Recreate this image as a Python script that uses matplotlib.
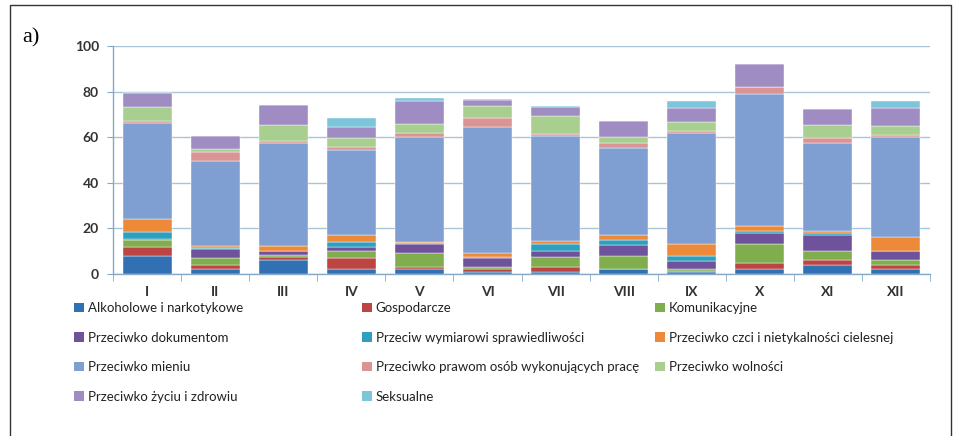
import numpy as np
import matplotlib.pyplot as plt
from matplotlib.patches import Rectangle, Patch

months = ["I", "II", "III", "IV", "V", "VI", "VII", "VIII", "IX", "X", "XI", "XII"]

labels = [
    "Alkoholowe i narkotykowe",
    "Gospodarcze",
    "Komunikacyjne",
    "Przeciwko dokumentom",
    "Przeciw wymiarowi sprawiedliwości",
    "Przeciwko czci i nietykalności cielesnej",
    "Przeciwko mieniu",
    "Przeciwko prawom osób wykonujących pracę",
    "Przeciwko wolności",
    "Przeciwko życiu i zdrowiu",
    "Seksualne",
]

alkoholowe   = [8, 2, 6, 2, 2, 1, 1, 2, 1, 2, 4, 2]
gospodarcze  = [4, 2, 1.5, 5, 1, 1, 2, 0.3, 0.3, 3, 2, 2]
komunikacyjne = [3, 3, 1, 3, 6, 1, 4.5, 5.5, 1, 8, 4, 2]
dokumentom   = [0.3, 4, 1.5, 2, 4, 4, 2.5, 5, 3.5, 5, 7, 4]
wymiarowi    = [3, 0.5, 0.3, 2, 0.5, 0.5, 3, 2, 2.2, 1, 1, 0.3]
czci         = [6, 0.7, 2, 3, 0.5, 1.5, 1.5, 2.5, 5, 2, 1, 6]
mieniu       = [42, 37.5, 45, 37.5, 46, 55.5, 46, 38, 49, 58, 38.5, 44]
prawom       = [1, 4, 1, 1, 2, 4, 0.7, 2, 0.8, 3, 2, 0.7]
wolnosci     = [6, 1, 7, 4, 4, 5, 8, 3, 4, 0, 6, 4]
zyciu        = [6, 6, 9, 5, 10, 3, 4, 7, 6, 10, 7, 8]
seksualne    = [0, 0, 0, 4, 1, 0.3, 0.5, 0, 3, 0, 0, 3]

series = [alkoholowe, gospodarcze, komunikacyjne, dokumentom, wymiarowi, czci,
          mieniu, prawom, wolnosci, zyciu, seksualne]

colors = ["#3270B4", "#BC4442", "#80AD4E", "#6E529B", "#2E9FBE", "#EC8A3A",
          "#7F9ED2", "#D99594", "#A8CE90", "#9F8CC2", "#7CC5DB"]

fig = plt.figure(figsize=(9.61, 4.36), dpi=100)
ax = fig.add_axes([113 / 961, 1 - 274 / 436, (930 - 113) / 961, (274 - 46) / 436])

x = np.arange(len(months))
bottom = np.zeros(len(months))
handles = []
for vals, col, lab in zip(series, colors, labels):
    v = np.array(vals, dtype=float)
    ax.bar(x, v, bottom=bottom, width=0.72, color=col, edgecolor="white",
           linewidth=0.3, zorder=3)
    bottom += v
    handles.append(Patch(facecolor=col, label=lab))

ax.set_xlim(-0.5, len(months) - 0.5)
ax.set_ylim(0, 100)
ax.set_yticks(range(0, 101, 20))
ax.yaxis.grid(True, color="#A9C4D8", linewidth=1.0, zorder=0)
ax.set_axisbelow(True)

ax.set_xticks(x)
ax.set_xticklabels(months)
ax.set_xticks(np.arange(-0.5, len(months)), minor=True)
ax.tick_params(axis="x", which="major", length=0, pad=9)
ax.tick_params(axis="x", which="minor", length=5, color="#85A9C8")
ax.tick_params(axis="y", length=4, color="#85A9C8", direction="out", pad=6)

for lbl in ax.get_xticklabels() + ax.get_yticklabels():
    lbl.set_fontfamily("Lato")
    lbl.set_fontweight("bold")
    lbl.set_fontsize(10)
    lbl.set_color("#333333")

for side in ["top", "right"]:
    ax.spines[side].set_visible(False)
for side in ["left", "bottom"]:
    ax.spines[side].set_color("#85A9C8")
    ax.spines[side].set_linewidth(1.0)

# legend, three columns laid out row by row
cols = [[0, 3, 6, 9], [1, 4, 7, 10], [2, 5, 8]]
col_x = [74 / 961, 362 / 961, 655 / 961]
for cx, idx in zip(col_x, cols):
    leg = fig.legend(handles=[handles[i] for i in idx], loc="upper left",
                     bbox_to_anchor=(cx, 1 - 302 / 436), frameon=False,
                     prop={"family": "Lato", "size": 9.5}, handlelength=0.75,
                     handleheight=0.75, handletextpad=0.3, labelspacing=1.33,
                     borderaxespad=0, borderpad=0)
    for t in leg.get_texts():
        t.set_color("#222222")

fig.text(22 / 961, 1 - 38 / 436, "a)", fontsize=16, family="Liberation Serif",
         va="center", ha="left")

fig.add_artist(Rectangle((10 / 961, -0.05), 941 / 961, 1.05 - 5 / 436,
                         transform=fig.transFigure, fill=False,
                         edgecolor="#333333", linewidth=1.0))

fig.savefig("out.png", dpi=100)
